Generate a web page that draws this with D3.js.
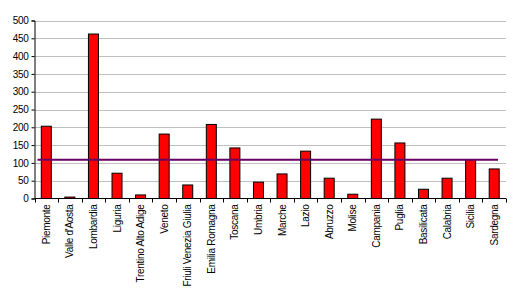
<!DOCTYPE html>
<html>
<head>
<meta charset="utf-8">
<script src="https://cdn.jsdelivr.net/npm/d3@7"></script>
<style>
body { margin: 0; background: white; }
text { font-family: "Liberation Sans", Arial, sans-serif; }
</style>
</head>
<body>
<div id="root"></div>
<script>
//regions and values
const regions = ["Piemonte", "Valle d'Aosta", "Lombardia", "Liguria", "Trentino Alto Adige", "Veneto",
	"Friuli Venezia Giulia", "Emilia Romagna", "Toscana", "Umbria", "Marche", "Lazio", "Abruzzo",
	"Molise", "Campania", "Puglia", "Basilicata", "Calabria", "Sicilia", "Sardegna"];
const values = [203, 4, 462, 71, 10, 181, 38, 208, 142, 46, 69, 133, 57, 12, 223, 156, 26, 57, 109, 83];
const average = [109];
const yTicks = [0, 50, 100, 150, 200, 250, 300, 350, 400, 450, 500];

const width = 516;
const height = 290;
const plotLeft = 34.5, plotRight = 506, plotTop = 20.5, plotBottom = 198.5;

const svg = d3.select("#root")
	.append("svg")
	.attr("width", width)
	.attr("height", height)
	.attr("style", "background-color: white;");

const xScale = d3.scaleBand()
	.domain(regions)
	.range([plotLeft, plotRight]);

const yScale = d3.scaleLinear()
	.domain([0, 500])
	.range([plotBottom, plotTop]);

//gridlines
svg.append("g")
	.selectAll("line")
	.data(yTicks.filter(d => d > 0))
	.enter()
	.append("line")
	.attr("x1", plotLeft)
	.attr("x2", plotRight)
	.attr("y1", d => Math.round(yScale(d)) + 0.5)
	.attr("y2", d => Math.round(yScale(d)) + 0.5)
	.attr("stroke", "#c0c0c0")
	.attr("stroke-width", 1);

//bars
svg.selectAll("rect.bar")
	.data(values)
	.enter()
	.append("rect")
	.attr("class", "bar")
	.attr("x", (d, i) => xScale(regions[i]) + xScale.bandwidth() / 2 - 5)
	.attr("y", d => yScale(d))
	.attr("width", 10)
	.attr("height", d => plotBottom - yScale(d))
	.attr("fill", "#ff0000")
	.attr("stroke", "black")
	.attr("stroke-width", 1);

//average line
svg.append("line")
	.attr("x1", plotLeft + 3)
	.attr("x2", plotRight - 8)
	.attr("y1", yScale(average[0]))
	.attr("y2", yScale(average[0]))
	.attr("stroke", "#660066")
	.attr("stroke-width", 2);

//y axis
const yAxis = d3.axisLeft(yScale).tickValues(yTicks).tickSize(3).tickPadding(3);
svg.append("g")
	.attr("transform", "translate(" + plotLeft + ",0)")
	.call(yAxis)
	.call(g => g.selectAll("text").style("font-size", "10px").style("letter-spacing", "-0.3px").attr("fill", "black"))
	.call(g => g.select(".domain").attr("stroke", "black"));

//x axis, ticks between categories
svg.append("line")
	.attr("x1", plotLeft)
	.attr("x2", plotRight)
	.attr("y1", plotBottom)
	.attr("y2", plotBottom)
	.attr("stroke", "black");

svg.append("g")
	.selectAll("line")
	.data(regions.concat(["end"]))
	.enter()
	.append("line")
	.attr("x1", (d, i) => Math.round(plotLeft + i * xScale.step()) + 0.5)
	.attr("x2", (d, i) => Math.round(plotLeft + i * xScale.step()) + 0.5)
	.attr("y1", plotBottom)
	.attr("y2", plotBottom + 4)
	.attr("stroke", "black");

//category labels, rotated
svg.append("g")
	.selectAll("text")
	.data(regions)
	.enter()
	.append("text")
	.attr("transform", d => "translate(" + (xScale(d) + xScale.bandwidth() / 2 + 3.5) + "," + (plotBottom + 6) + ") rotate(-90)")
	.attr("text-anchor", "end")
	.style("font-size", "10px")
	.style("letter-spacing", "-0.3px")
	.text(d => d);
</script>
</body>
</html>
